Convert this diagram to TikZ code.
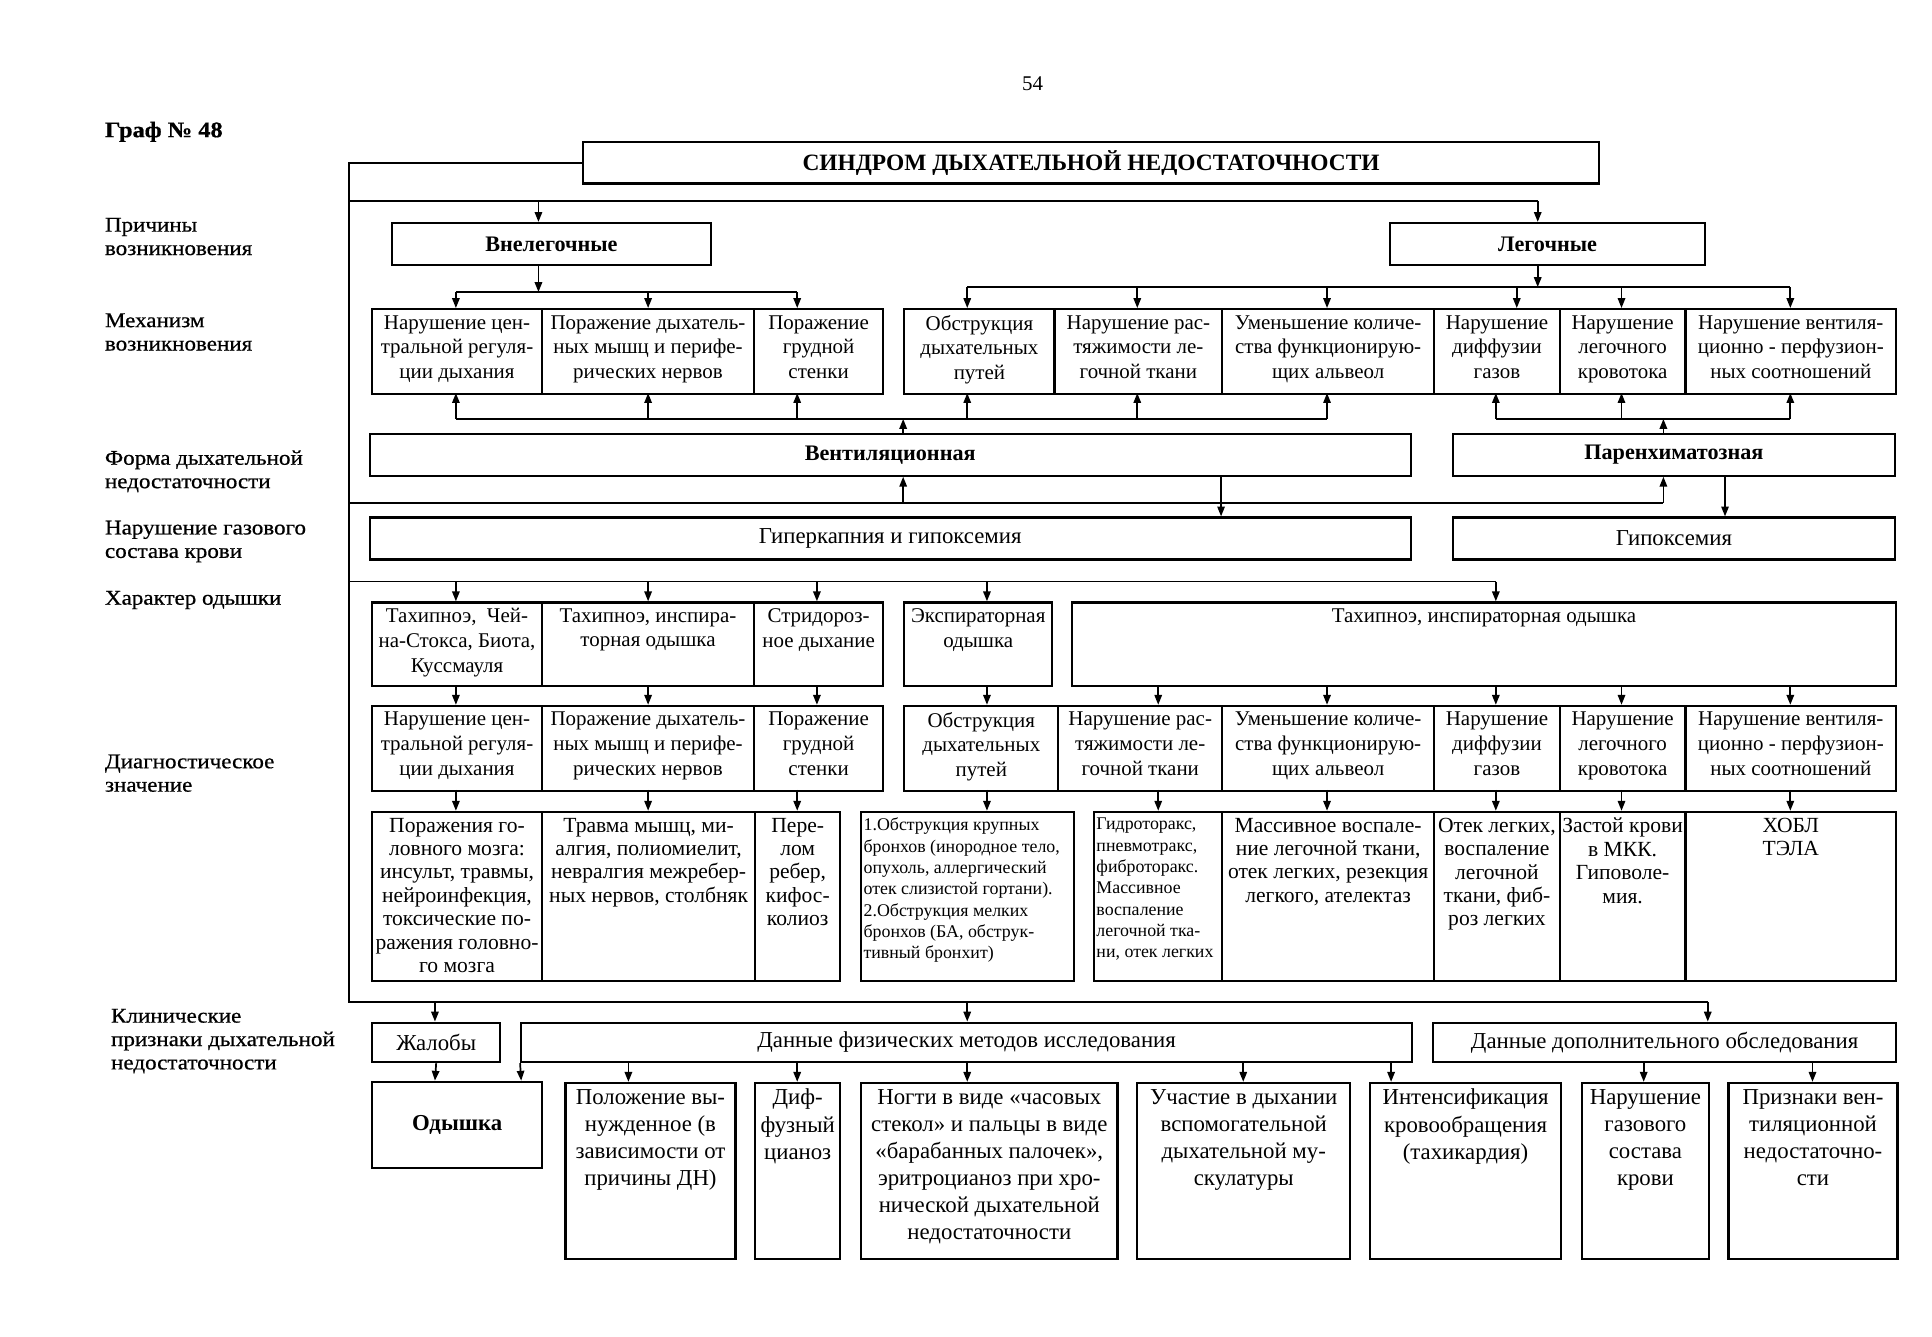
\documentclass[tikz,border=0pt]{standalone}
\usepackage{fontspec}
\setmainfont{Liberation Serif}
\newfontfamily\lblfont{Liberation Serif}[FakeStretch=1.1,FakeBold=0.6]
\usetikzlibrary{arrows.meta}
\tikzset{
 cellbox/.style={draw, line width=1.8pt, inner sep=0pt, font=\fontsize{17}{20}\selectfont},
 arr/.style={line width=1.4pt, -{Triangle[length=8pt,width=6pt]}},
 ln/.style={line width=1.4pt},
 lbl/.style={anchor=west, align=left, inner sep=0pt, font=\lblfont\fontsize{17}{19}\selectfont},
}
% #1 format, #2 name, #3 x1, #4 y1, #5 x2, #6 y2, #7 text (top aligned)
\newcommand\mycell[7][\centering]{%
 \node[cellbox, anchor=north west, minimum width={(#5-#3)*1pt}, minimum height={(#6-#4)*1pt}] (#2) at (#3,#4)
 {\parbox[c][\dimexpr #6pt-#4pt-10pt\relax][t]{\dimexpr #5pt-#3pt-4pt\relax}{#1 #7}};}
% centred box: #1 name, #2 x1, #3 y1, #4 x2, #5 y2, #6 font, #7 text
\newcommand\mybox[7]{\node[cellbox, minimum width={(#4-#2)*1pt}, minimum height={(#5-#3)*1pt}, font={#6}] (#1) at ({(#2+#4)/2},{(#3+#5)/2}) {#7};}
\newcommand\varr[3]{\draw[arr] (#1,#2) -- (#1,#3);}
\begin{document}
\begin{tikzpicture}[x=1pt,y=-1pt]
\useasboundingbox[fill=white] (0,0) rectangle (1568,1085);
% header
\node[inner sep=0pt, font=\fontsize{17}{20}\selectfont] (pnum) at (838,68) {54};
\node[lbl, font=\lblfont\bfseries\fontsize{18}{19}\selectfont] (graf) at (85,107) {Граф № 48};
% left labels
\node[lbl] (l1) at (85,192) {Причины\\возникновения};
\node[lbl] (l2) at (85,269.5) {Механизм\\возникновения};
\node[lbl] (l3) at (85,382.5) {Форма дыхательной\\недостаточности};
\node[lbl] (l4) at (85,439.5) {Нарушение газового\\состава крови};
\node[lbl] (l5) at (85,487) {Характер одышки};
\node[lbl] (l6) at (85,627.5) {Диагностическое\\значение};
\node[lbl] (l7) at (90,845) {Клинические\\признаки дыхательной\\недостаточности};

% title and causes
\mybox{title}{473}{115}{1298}{149}{\bfseries\fontsize{19}{22}\selectfont}{СИНДРОМ ДЫХАТЕЛЬНОЙ НЕДОСТАТОЧНОСТИ}
\mybox{vneleg}{318}{181}{577}{215}{\bfseries\fontsize{18}{21}\selectfont}{Внелегочные}
\mybox{leg}{1128}{181}{1384}{215}{\bfseries\fontsize{18}{21}\selectfont}{Легочные}

% mechanism row
\mycell{m1}{301}{250}{439}{319}{Нарушение цен-\\тральной регуля-\\ции дыхания}
\mycell{m2}{439}{250}{611}{319}{Поражение дыхатель-\\ных мышц и перифе-\\рических нервов}
\mycell{m3}{611}{250}{716}{319}{Поражение\\грудной\\стенки}
\mycell{m4}{733}{250}{855}{319}{Обструкция\\дыхательных\\путей}
\mycell{m5}{855}{250}{991}{319}{Нарушение рас-\\тяжимости ле-\\гочной ткани}
\mycell{m6}{991}{250}{1163}{319}{Уменьшение количе-\\ства функционирую-\\щих альвеол}
\mycell{m7}{1163}{250}{1265}{319}{Нарушение\\диффузии\\газов}
\mycell{m8}{1265}{250}{1367}{319}{Нарушение\\легочного\\кровотока}
\mycell{m9}{1367}{250}{1538}{319}{Нарушение вентиля-\\ционно - перфузион-\\ных соотношений}

% form row
\mybox{vent}{300}{352}{1145}{386}{\bfseries\fontsize{18}{21}\selectfont}{Вентиляционная}
\mybox{paren}{1179}{352}{1538}{386}{\bfseries\fontsize{18}{21}\selectfont}{Паренхиматозная}
% gas row
\mybox{hyper}{300}{420}{1145}{454}{\fontsize{18.5}{21}\selectfont}{Гиперкапния и гипоксемия}
\mybox{hypox}{1179}{420}{1538}{454}{\fontsize{18.5}{21}\selectfont}{Гипоксемия}

% character row
\mycell{c1}{301}{488}{439}{556}{Тахипноэ,~ Чей-\\на-Стокса, Биота,\\Куссмауля}
\mycell{c2}{439}{488}{611}{556}{Тахипноэ, инспира-\\торная одышка}
\mycell{c3}{611}{488}{716}{556}{Стридороз-\\ное дыхание}
\mycell{c4}{733}{488}{853}{556}{Экспираторная\\одышка}
\mycell{c5}{869}{488}{1538}{556}{Тахипноэ, инспираторная одышка}

% diagnostic row 1
\mycell{d1}{301}{572}{439}{641}{Нарушение цен-\\тральной регуля-\\ции дыхания}
\mycell{d2}{439}{572}{611}{641}{Поражение дыхатель-\\ных мышц и перифе-\\рических нервов}
\mycell{d3}{611}{572}{716}{641}{Поражение\\грудной\\стенки}
\mycell{d4}{733}{572}{858}{641}{Обструкция\\дыхательных\\путей}
\mycell{d5}{858}{572}{991}{641}{Нарушение рас-\\тяжимости ле-\\гочной ткани}
\mycell{d6}{991}{572}{1163}{641}{Уменьшение количе-\\ства функционирую-\\щих альвеол}
\mycell{d7}{1163}{572}{1265}{641}{Нарушение\\диффузии\\газов}
\mycell{d8}{1265}{572}{1367}{641}{Нарушение\\легочного\\кровотока}
\mycell{d9}{1367}{572}{1538}{641}{Нарушение вентиля-\\ционно - перфузион-\\ных соотношений}

% diagnostic row 2
\mycell[\centering\fontsize{17.5}{19}\selectfont]{e1}{301}{658}{439}{795}{Поражения го-\\ловного мозга:\\инсульт, травмы,\\нейроинфекция,\\токсические по-\\ражения головно-\\го мозга}
\mycell[\centering\fontsize{17.5}{19}\selectfont]{e2}{439}{658}{612}{795}{Травма мышц, ми-\\алгия, полиомиелит,\\невралгия межребер-\\ных нервов, столбняк}
\mycell[\centering\fontsize{17.5}{19}\selectfont]{e3}{612}{658}{681}{795}{Пере-\\лом\\ребер,\\кифос-\\колиоз}
\mycell[\raggedright\fontsize{14.5}{17.3}\selectfont]{e4}{698}{658}{871}{795}{1.Обструкция крупных\\бронхов (инородное тело,\\опухоль, аллергический\\отек слизистой гортани).\\2.Обструкция мелких\\бронхов (БА, обструк-\\тивный бронхит)}
\mycell[\raggedright\fontsize{14.5}{17.3}\selectfont]{e5}{887}{658}{991}{795}{Гидроторакс,\\пневмотракс,\\фиброторакс.\\Массивное\\воспаление\\легочной тка-\\ни, отек легких}
\mycell[\centering\fontsize{17.5}{19}\selectfont]{e6}{991}{658}{1163}{795}{Массивное воспале-\\ние легочной ткани,\\отек легких, резекция\\легкого, ателектаз}
\mycell[\centering\fontsize{17.5}{19}\selectfont]{e7}{1163}{658}{1265}{795}{Отек легких,\\воспаление\\легочной\\ткани, фиб-\\роз легких}
\mycell[\centering\fontsize{17.5}{19}\selectfont]{e8}{1265}{658}{1367}{795}{Застой крови\\в МКК.\\Гиповоле-\\мия.}
\mycell[\centering\fontsize{17.5}{19}\selectfont]{e9}{1367}{658}{1538}{795}{ХОБЛ\\ТЭЛА}

% clinical row
\mybox{zhal}{302}{830}{406}{862}{\fontsize{18.5}{21}\selectfont}{Жалобы}
\mybox{fiz}{423}{830}{1146}{862}{\fontsize{18.5}{21}\selectfont}{Данные физических методов исследования}
\mybox{dop}{1163}{830}{1539}{862}{\fontsize{18.5}{21}\selectfont}{Данные дополнительного обследования}

% bottom row
\mybox{b1}{302}{878}{440}{948}{\bfseries\fontsize{18.5}{21}\selectfont}{Одышка}
\mycell[\centering\fontsize{18.5}{22}\selectfont]{b2}{458}{878}{596}{1021}{Положение вы-\\нужденное (в\\зависимости от\\причины ДН)}
\mycell[\centering\fontsize{18.5}{22}\selectfont]{b3}{612}{878}{681}{1021}{Диф-\\фузный\\цианоз}
\mycell[\centering\fontsize{18.5}{22}\selectfont]{b4}{698}{878}{906}{1021}{Ногти в виде «часовых\\стекол» и пальцы в виде\\«барабанных палочек»,\\эритроцианоз при хро-\\нической дыхательной\\недостаточности}
\mycell[\centering\fontsize{18.5}{22}\selectfont]{b5}{922}{878}{1095}{1021}{Участие в дыхании\\вспомогательной\\дыхательной му-\\скулатуры}
\mycell[\centering\fontsize{18.5}{22}\selectfont]{b6}{1111}{878}{1266}{1021}{Интенсификация\\кровообращения\\(тахикардия)}
\mycell[\centering\fontsize{18.5}{22}\selectfont]{b7}{1283}{878}{1386}{1021}{Нарушение\\газового\\состава\\крови}
\mycell[\centering\fontsize{18.5}{22}\selectfont]{b8}{1402}{878}{1539}{1021}{Признаки вен-\\тиляционной\\недостаточно-\\сти}

% ---- connectors ----
\draw[ln] (title.west) -- (283,0 |- title.west) -- (283,813) -- (1386,813);
\draw[ln] (283,163) -- (1248,163);
\draw[arr] (437,163) -- (437,0 |- vneleg.north);
\draw[arr] (1248,163) -- (1248,0 |- leg.north);
\draw[arr] (437,0 |- vneleg.south) -- (437,237);
\draw[ln] (370,237) -- (647,237);
\varr{370}{237}{250}\varr{526}{237}{250}\varr{647}{237}{250}
\draw[arr] (1248,0 |- leg.south) -- (1248,233);
\draw[ln] (785,233) -- (1453,233);
\varr{785}{233}{250}\varr{923}{233}{250}\varr{1077}{233}{250}\varr{1231}{233}{250}\varr{1316}{233}{250}\varr{1453}{233}{250}

\draw[ln] (370,340) -- (1077,340);
\varr{370}{340}{319}\varr{526}{340}{319}\varr{647}{340}{319}\varr{785}{340}{319}\varr{923}{340}{319}\varr{1077}{340}{319}
\draw[arr] (733,0 |- vent.north) -- (733,340);
\draw[ln] (1214,340) -- (1453,340);
\varr{1214}{340}{319}\varr{1316}{340}{319}\varr{1453}{340}{319}
\draw[arr] (1350,0 |- paren.north) -- (1350,340);

\draw[ln] (283,408) -- (1350,408);
\draw[arr] (1350,408) -- (1350,0 |- paren.south);
\draw[arr] (733,408) -- (733,0 |- vent.south);
\draw[arr] (991,0 |- vent.south) -- (991,0 |- hyper.north);
\draw[arr] (1400,0 |- paren.south) -- (1400,0 |- hypox.north);

\draw[ln] (283,472) -- (1214,472);
\varr{370}{472}{488}\varr{526}{472}{488}\varr{663}{472}{488}\varr{801}{472}{488}\varr{1214}{472}{488}

\varr{370}{556}{572}\varr{526}{556}{572}\varr{663}{556}{572}\varr{801}{556}{572}
\varr{940}{556}{572}\varr{1077}{556}{572}\varr{1214}{556}{572}\varr{1316}{556}{572}\varr{1453}{556}{572}

\varr{370}{641}{658}\varr{526}{641}{658}\varr{647}{641}{658}\varr{801}{641}{658}
\varr{940}{641}{658}\varr{1077}{641}{658}\varr{1214}{641}{658}\varr{1316}{641}{658}\varr{1453}{641}{658}

\draw[arr] (353,813) -- (353,0 |- zhal.north);
\draw[arr] (785,813) -- (785,0 |- fiz.north);
\draw[arr] (1386,813) -- (1386,0 |- dop.north);
\draw[arr] (zhal.south) -- (353,0 |- b1.north);
\draw[arr] (fiz.south west) -- (423,0 |- b1.north);
\varr{510}{862}{878}\varr{647}{862}{878}\varr{785}{862}{878}\varr{1009}{862}{878}\varr{1129}{862}{878}
\varr{1334}{862}{878}\varr{1471}{862}{878}
\end{tikzpicture}
\end{document}
